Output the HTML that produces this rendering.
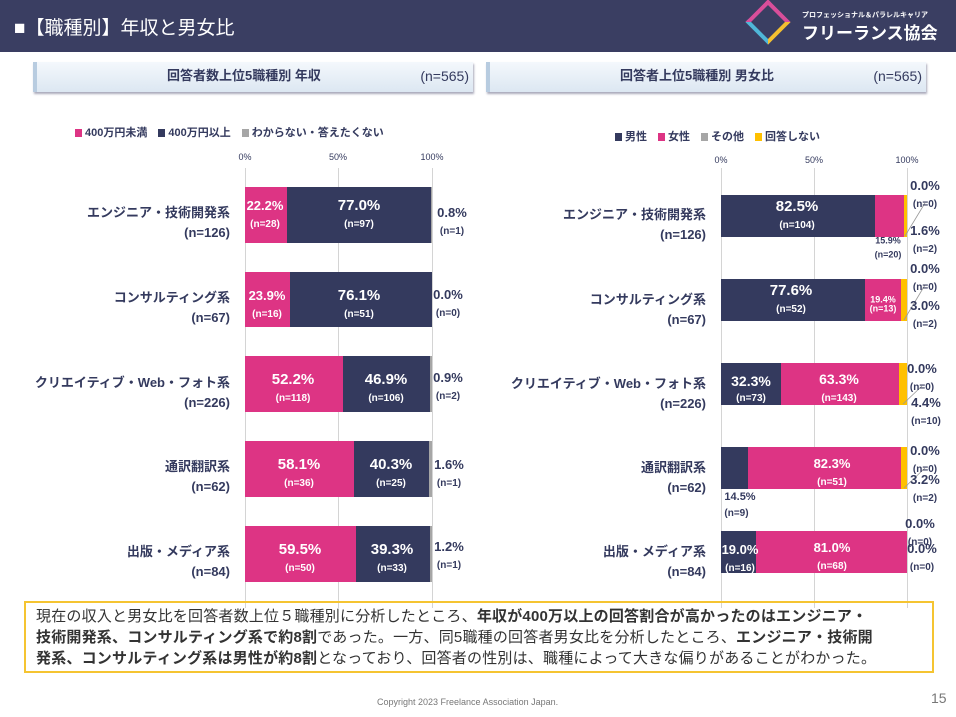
<!DOCTYPE html>
<html><head><meta charset="utf-8"><style>
*{margin:0;padding:0;box-sizing:border-box}
body{width:956px;height:717px;background:#fff;position:relative;overflow:hidden;font-family:"Liberation Sans","Noto Sans CJK JP",sans-serif;color:#343a5e}
.a{position:absolute}
.b{position:absolute}
.c{position:absolute;transform:translate(-50%,-50%);text-align:center;font-weight:bold;line-height:1.05;white-space:nowrap}
.w{color:#fff}
.p{font-size:15px}.s{font-size:10px}
.cat{position:absolute;text-align:right;font-weight:bold;font-size:13px;line-height:20px;white-space:nowrap}
.g{position:absolute;top:168px;height:440px;width:1px;background:#d4d4d4}
.tick{position:absolute;font-size:9px;color:#343a5e;transform:translateX(-50%)}
.hd{position:absolute;height:30px;background:linear-gradient(#f4f8fc,#dce7f2);box-shadow:1px 2px 2px #aab;border-left:4px solid #b8cce0;font-weight:bold;font-size:13px;line-height:28px}
.lg{position:absolute;font-size:11px;font-weight:bold;white-space:nowrap}
.sq{display:inline-block;width:7px;height:8px;margin-right:3px;vertical-align:-1px}
</style></head><body>
<div class="a" style="left:0;top:0;width:956px;height:52px;background:#3a3e62"></div>
<div class="a" style="left:14px;top:13px;color:#fff;font-size:19px">■【職種別】年収と男女比</div>
<div class="a" style="left:752px;top:6px;width:32px;height:32px;border:4px solid #d84e9a;transform:rotate(45deg);border-right-color:#f4c030;border-bottom-color:#4fb7d8"></div>
<div class="a" style="left:802px;top:10px;color:#fff;font-size:7px;font-weight:bold">プロフェッショナル＆パラレルキャリア</div>
<div class="a" style="left:802px;top:19px;color:#fff;font-size:17px;font-weight:bold">フリーランス協会</div>

<div class="hd" style="left:33px;top:62px;width:440px"><span style="position:absolute;left:130px">回答者数上位5職種別 年収</span><span style="position:absolute;right:4px;font-weight:normal;font-size:14px">(n=565)</span></div>
<div class="hd" style="left:486px;top:62px;width:440px"><span style="position:absolute;left:130px">回答者上位5職種別 男女比</span><span style="position:absolute;right:4px;font-weight:normal;font-size:14px">(n=565)</span></div>

<div class="lg" style="left:75px;top:124px"><span class="sq" style="background:#dd3484"></span>400万円未満　<span class="sq" style="background:#343a5e"></span>400万円以上　<span class="sq" style="background:#a6a6a6"></span>わからない・答えたくない</div>
<div class="lg" style="left:615px;top:128px"><span class="sq" style="background:#343a5e"></span>男性　<span class="sq" style="background:#dd3484"></span>女性　<span class="sq" style="background:#a6a6a6"></span>その他　<span class="sq" style="background:#ffc000"></span>回答しない</div>

<div class="tick" style="left:245px;top:152px">0%</div><div class="tick" style="left:338px;top:152px">50%</div><div class="tick" style="left:432px;top:152px">100%</div>
<div class="tick" style="left:721px;top:155px">0%</div><div class="tick" style="left:814px;top:155px">50%</div><div class="tick" style="left:907px;top:155px">100%</div>
<div class="g" style="left:245px"></div><div class="g" style="left:338px"></div><div class="g" style="left:432px"></div>
<div class="g" style="left:721px"></div><div class="g" style="left:814px"></div><div class="g" style="left:907px"></div>

<div class="cat" style="right:726px;top:203px">エンジニア・技術開発系<br>(n=126)</div>
<div class="cat" style="right:726px;top:288px">コンサルティング系<br>(n=67)</div>
<div class="cat" style="right:726px;top:373px">クリエイティブ・Web・フォト系<br>(n=226)</div>
<div class="cat" style="right:726px;top:457px">通訳翻訳系<br>(n=62)</div>
<div class="cat" style="right:726px;top:542px">出版・メディア系<br>(n=84)</div>

<div class="b" style="left:245px;top:187px;width:41.5px;height:56px;background:#dd3484"></div><div class="b" style="left:286.5px;top:187px;width:144px;height:56px;background:#343a5e"></div><div class="b" style="left:430.5px;top:187px;width:1.5px;height:56px;background:#a6a6a6"></div>
<div class="b" style="left:245px;top:272px;width:44.7px;height:55px;background:#dd3484"></div><div class="b" style="left:289.7px;top:272px;width:142.3px;height:55px;background:#343a5e"></div>
<div class="b" style="left:245px;top:356px;width:97.6px;height:56px;background:#dd3484"></div><div class="b" style="left:342.6px;top:356px;width:87.7px;height:56px;background:#343a5e"></div><div class="b" style="left:430.3px;top:356px;width:1.7px;height:56px;background:#a6a6a6"></div>
<div class="b" style="left:245px;top:441px;width:108.6px;height:56px;background:#dd3484"></div><div class="b" style="left:353.6px;top:441px;width:75.4px;height:56px;background:#343a5e"></div><div class="b" style="left:429px;top:441px;width:3px;height:56px;background:#a6a6a6"></div>
<div class="b" style="left:245px;top:526px;width:111.3px;height:56px;background:#dd3484"></div><div class="b" style="left:356.3px;top:526px;width:73.5px;height:56px;background:#343a5e"></div><div class="b" style="left:429.8px;top:526px;width:2.2px;height:56px;background:#a6a6a6"></div>

<div class="c w" style="left:265px;top:215px"><span class="p" style="font-size:13px">22.2%</span><br><span class="s">(n=28)</span></div>
<div class="c w" style="left:359px;top:215px"><span class="p">77.0%</span><br><span class="s">(n=97)</span></div>
<div class="c" style="left:452px;top:222px"><span style="font-size:13px">0.8%</span><br><span class="s">(n=1)</span></div>
<div class="c w" style="left:267px;top:305px"><span style="font-size:13px">23.9%</span><br><span class="s">(n=16)</span></div>
<div class="c w" style="left:359px;top:305px"><span class="p">76.1%</span><br><span class="s">(n=51)</span></div>
<div class="c" style="left:448px;top:304px"><span style="font-size:13px">0.0%</span><br><span class="s">(n=0)</span></div>
<div class="c w" style="left:293px;top:389px"><span class="p">52.2%</span><br><span class="s">(n=118)</span></div>
<div class="c w" style="left:386px;top:389px"><span class="p">46.9%</span><br><span class="s">(n=106)</span></div>
<div class="c" style="left:448px;top:387px"><span style="font-size:13px">0.9%</span><br><span class="s">(n=2)</span></div>
<div class="c w" style="left:299px;top:474px"><span class="p">58.1%</span><br><span class="s">(n=36)</span></div>
<div class="c w" style="left:391px;top:474px"><span class="p">40.3%</span><br><span class="s">(n=25)</span></div>
<div class="c" style="left:449px;top:474px"><span style="font-size:13px">1.6%</span><br><span class="s">(n=1)</span></div>
<div class="c w" style="left:300px;top:559px"><span class="p">59.5%</span><br><span class="s">(n=50)</span></div>
<div class="c w" style="left:392px;top:559px"><span class="p">39.3%</span><br><span class="s">(n=33)</span></div>
<div class="c" style="left:449px;top:556px"><span style="font-size:13px">1.2%</span><br><span class="s">(n=1)</span></div>

<div class="cat" style="right:250px;top:205px">エンジニア・技術開発系<br>(n=126)</div>
<div class="cat" style="right:250px;top:290px">コンサルティング系<br>(n=67)</div>
<div class="cat" style="right:250px;top:374px">クリエイティブ・Web・フォト系<br>(n=226)</div>
<div class="cat" style="right:250px;top:458px">通訳翻訳系<br>(n=62)</div>
<div class="cat" style="right:250px;top:542px">出版・メディア系<br>(n=84)</div>

<div class="b" style="left:721px;top:195px;width:153.5px;height:42px;background:#343a5e"></div><div class="b" style="left:874.5px;top:195px;width:29.6px;height:42px;background:#dd3484"></div><div class="b" style="left:904px;top:195px;width:3px;height:42px;background:#ffc000"></div>
<div class="b" style="left:721px;top:279px;width:144.3px;height:42px;background:#343a5e"></div><div class="b" style="left:865.3px;top:279px;width:36.1px;height:42px;background:#dd3484"></div><div class="b" style="left:901.4px;top:279px;width:5.6px;height:42px;background:#ffc000"></div>
<div class="b" style="left:721px;top:363px;width:60px;height:42px;background:#343a5e"></div><div class="b" style="left:781px;top:363px;width:117.8px;height:42px;background:#dd3484"></div><div class="b" style="left:898.8px;top:363px;width:8.2px;height:42px;background:#ffc000"></div>
<div class="b" style="left:721px;top:447px;width:27px;height:42px;background:#343a5e"></div><div class="b" style="left:748px;top:447px;width:153px;height:42px;background:#dd3484"></div><div class="b" style="left:901px;top:447px;width:6px;height:42px;background:#ffc000"></div>
<div class="b" style="left:721px;top:531px;width:35.3px;height:42px;background:#343a5e"></div><div class="b" style="left:756.3px;top:531px;width:150.7px;height:42px;background:#dd3484"></div>

<svg class="a" style="left:0;top:0" width="956" height="717"><g stroke="#999" stroke-width="0.8" fill="none">
<line x1="905" y1="236" x2="925" y2="203"/><line x1="904" y1="320" x2="925" y2="285"/><line x1="903" y1="404" x2="922" y2="386"/><line x1="904" y1="488" x2="925" y2="468"/></g></svg>

<div class="c w" style="left:797px;top:216px"><span class="p">82.5%</span><br><span class="s">(n=104)</span></div>
<div class="c" style="left:888px;top:250px;font-size:9px">15.9%<br><span style="font-size:9px;line-height:2">(n=20)</span></div>
<div class="c" style="left:925px;top:195px"><span style="font-size:13px">0.0%</span><br><span class="s">(n=0)</span></div>
<div class="c" style="left:925px;top:240px"><span style="font-size:13px">1.6%</span><br><span class="s">(n=2)</span></div>
<div class="c w" style="left:791px;top:300px"><span class="p">77.6%</span><br><span class="s">(n=52)</span></div>
<div class="c w" style="left:883px;top:305px;font-size:9px">19.4%<br>(n=13)</div>
<div class="c" style="left:925px;top:278px"><span style="font-size:13px">0.0%</span><br><span class="s">(n=0)</span></div>
<div class="c" style="left:925px;top:315px"><span style="font-size:13px">3.0%</span><br><span class="s">(n=2)</span></div>
<div class="c w" style="left:751px;top:389px;font-size:14px">32.3%<br><span class="s">(n=73)</span></div>
<div class="c w" style="left:839px;top:389px"><span style="font-size:14px">63.3%</span><br><span class="s">(n=143)</span></div>
<div class="c" style="left:922px;top:378px"><span style="font-size:13px">0.0%</span><br><span class="s">(n=0)</span></div>
<div class="c" style="left:926px;top:412px"><span style="font-size:13px">4.4%</span><br><span class="s">(n=10)</span></div>
<div class="c w" style="left:832px;top:473px"><span style="font-size:13px">82.3%</span><br><span class="s">(n=51)</span></div>
<div class="c" style="left:925px;top:460px"><span style="font-size:13px">0.0%</span><br><span class="s">(n=0)</span></div>
<div class="c" style="left:925px;top:489px"><span style="font-size:13px">3.2%</span><br><span class="s">(n=2)</span></div>
<div class="c" style="left:740px;top:508px;font-size:11px;text-align:left">14.5%<br><span class="s" style="line-height:2">(n=9)</span></div>
<div class="c w" style="left:740px;top:559px"><span style="font-size:13px">19.0%</span><br><span class="s">(n=16)</span></div>
<div class="c w" style="left:832px;top:557px"><span style="font-size:13px">81.0%</span><br><span class="s">(n=68)</span></div>
<div class="c" style="left:920px;top:533px"><span style="font-size:13px">0.0%</span><br><span class="s">(n=0)</span></div>
<div class="c" style="left:922px;top:558px"><span style="font-size:13px">0.0%</span><br><span class="s">(n=0)</span></div>

<div class="a" style="left:24px;top:601px;width:910px;height:72px;border:2px solid #f5c431;padding:3px 10px;font-size:15px;line-height:21px;color:#333;white-space:nowrap;letter-spacing:0.2px">現在の収入と男女比を回答者数上位５職種別に分析したところ、<b>年収が400万以上の回答割合が高かったのはエンジニア・</b><br><b>技術開発系、コンサルティング系で約8割</b>であった。一方、同5職種の回答者男女比を分析したところ、<b>エンジニア・技術開</b><br><b>発系、コンサルティング系は男性が約8割</b>となっており、回答者の性別は、職種によって大きな偏りがあることがわかった。</div>
<div class="a" style="left:377px;top:697px;font-size:9px;color:#777">Copyright 2023 Freelance Association Japan.</div>
<div class="a" style="left:931px;top:690px;font-size:14px;color:#777">15</div>
</body></html>
